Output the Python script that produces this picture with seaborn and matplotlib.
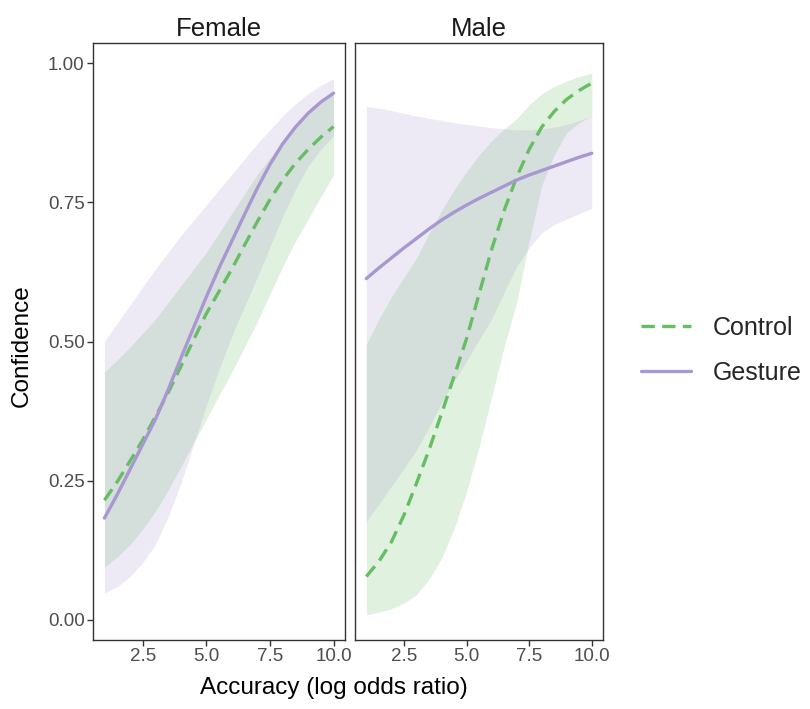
import numpy as np
import pandas as pd
import matplotlib
matplotlib.use("Agg")
import matplotlib.pyplot as plt
from matplotlib.lines import Line2D
import seaborn as sns

# values
accuracy = [1, 1.5, 2, 2.5, 3, 3.5, 4, 4.5, 5, 5.5, 6, 6.5, 7, 7.5, 8, 8.5, 9, 9.5, 10]

female_control = [0.215, 0.248, 0.285, 0.323, 0.365, 0.408, 0.455, 0.503, 0.55, 0.59,
                  0.63, 0.673, 0.715, 0.755, 0.79, 0.82, 0.845, 0.867, 0.886]
female_control_lo = [0.095, 0.113, 0.135, 0.163, 0.195, 0.233, 0.275, 0.318, 0.36, 0.403,
                     0.445, 0.49, 0.535, 0.585, 0.635, 0.68, 0.72, 0.76, 0.80]
female_control_hi = [0.445, 0.467, 0.49, 0.515, 0.54, 0.57, 0.60, 0.63, 0.66, 0.695,
                     0.73, 0.765, 0.80, 0.83, 0.86, 0.887, 0.91, 0.932, 0.95]

female_gesture = [0.183, 0.225, 0.27, 0.315, 0.36, 0.413, 0.47, 0.525, 0.58, 0.632,
                  0.68, 0.728, 0.775, 0.818, 0.855, 0.885, 0.91, 0.93, 0.946]
female_gesture_lo = [0.048, 0.06, 0.078, 0.103, 0.135, 0.185, 0.245, 0.315, 0.385, 0.45,
                     0.51, 0.563, 0.615, 0.67, 0.725, 0.773, 0.815, 0.845, 0.87]
female_gesture_hi = [0.50, 0.533, 0.565, 0.598, 0.63, 0.66, 0.69, 0.718, 0.745, 0.773,
                     0.80, 0.828, 0.855, 0.88, 0.905, 0.927, 0.945, 0.96, 0.972]

male_control = [0.078, 0.105, 0.14, 0.188, 0.245, 0.305, 0.37, 0.437, 0.505, 0.585,
                0.665, 0.735, 0.795, 0.845, 0.885, 0.913, 0.935, 0.951, 0.964]
male_control_lo = [0.009, 0.014, 0.02, 0.03, 0.045, 0.073, 0.11, 0.163, 0.23, 0.31,
                   0.40, 0.49, 0.57, 0.68, 0.78, 0.835, 0.875, 0.893, 0.905]
male_control_hi = [0.495, 0.54, 0.58, 0.615, 0.65, 0.693, 0.735, 0.772, 0.805, 0.835,
                   0.86, 0.882, 0.90, 0.925, 0.945, 0.958, 0.968, 0.976, 0.982]

male_gesture = [0.613, 0.632, 0.65, 0.668, 0.685, 0.702, 0.718, 0.732, 0.745, 0.757,
                0.768, 0.779, 0.79, 0.799, 0.807, 0.815, 0.823, 0.831, 0.838]
male_gesture_lo = [0.177, 0.208, 0.24, 0.272, 0.305, 0.345, 0.39, 0.428, 0.465, 0.503,
                   0.54, 0.588, 0.635, 0.668, 0.695, 0.71, 0.72, 0.73, 0.739]
male_gesture_hi = [0.922, 0.919, 0.915, 0.91, 0.905, 0.901, 0.897, 0.893, 0.89, 0.887,
                   0.884, 0.882, 0.88, 0.88, 0.882, 0.885, 0.89, 0.897, 0.905]

rows = []
for sex, cond, fit, lo, hi in [
    ("Female", "Control", female_control, female_control_lo, female_control_hi),
    ("Female", "Gesture", female_gesture, female_gesture_lo, female_gesture_hi),
    ("Male", "Control", male_control, male_control_lo, male_control_hi),
    ("Male", "Gesture", male_gesture, male_gesture_lo, male_gesture_hi),
]:
    for x, f, l, h in zip(accuracy, fit, lo, hi):
        rows.append({"sex": sex, "cond": cond, "accuracy": x, "fit": f, "lo": l, "hi": h})
df = pd.DataFrame(rows)

sns.set_style("white")
plt.rcParams["font.family"] = ["Liberation Sans", "DejaVu Sans"]

colors = {"Control": "#66BD63", "Gesture": "#A897D0"}
dashes = {"Control": (4, 2.2), "Gesture": ""}

fig = plt.figure(figsize=(8.1, 7.09), dpi=100)
ax_f = fig.add_axes([0.1148, 0.0973, 0.3112, 0.8420])
ax_m = fig.add_axes([0.4383, 0.0973, 0.3062, 0.8420])

for ax, sex in [(ax_f, "Female"), (ax_m, "Male")]:
    sub = df[df["sex"] == sex]
    for cond in ["Control", "Gesture"]:
        s = sub[sub["cond"] == cond]
        ax.fill_between(s["accuracy"], s["lo"], s["hi"], color=colors[cond],
                        alpha=0.2, linewidth=0)
    sns.lineplot(data=sub, x="accuracy", y="fit", hue="cond", style="cond",
                 palette=colors, dashes=dashes, linewidth=2.4, ax=ax,
                 legend=False, zorder=3)
    ax.set_xlim(0.55, 10.45)
    ax.set_ylim(-0.036, 1.036)
    ax.set_xticks([2.5, 5.0, 7.5, 10.0])
    ax.set_xticklabels(["2.5", "5.0", "7.5", "10.0"])
    ax.set_yticks([0, 0.25, 0.5, 0.75, 1.0])
    ax.set_xlabel("")
    ax.set_ylabel("")
    ax.set_title(sex, fontsize=18.5, pad=5, color="#1a1a1a")
    for sp in ax.spines.values():
        sp.set_color("#333333")
        sp.set_linewidth(1.0)
    ax.tick_params(axis="both", direction="out", length=4, width=1,
                   bottom=True, left=True, color="#333333",
                   labelsize=13.5, labelcolor="#4d4d4d", pad=2)

ax_f.set_yticklabels(["0.00", "0.25", "0.50", "0.75", "1.00"])
ax_m.tick_params(axis="y", left=False, labelleft=False)

fig.text(0.027, 0.513, "Confidence", rotation=90, ha="center", va="center",
         fontsize=17.5, color="black")
fig.text(0.412, 0.030, "Accuracy (log odds ratio)", ha="center", va="center",
         fontsize=17.5, color="black")

handles = [Line2D([], [], color=colors["Control"], lw=2.4, dashes=(4, 2.2)),
           Line2D([], [], color=colors["Gesture"], lw=2.4)]
fig.legend(handles, ["Control", "Gesture"], loc="center left",
           bbox_to_anchor=(0.764, 0.506), frameon=False, fontsize=18,
           handlelength=2.0, handletextpad=0.85, labelspacing=0.85)

fig.savefig("out.png", dpi=100)
